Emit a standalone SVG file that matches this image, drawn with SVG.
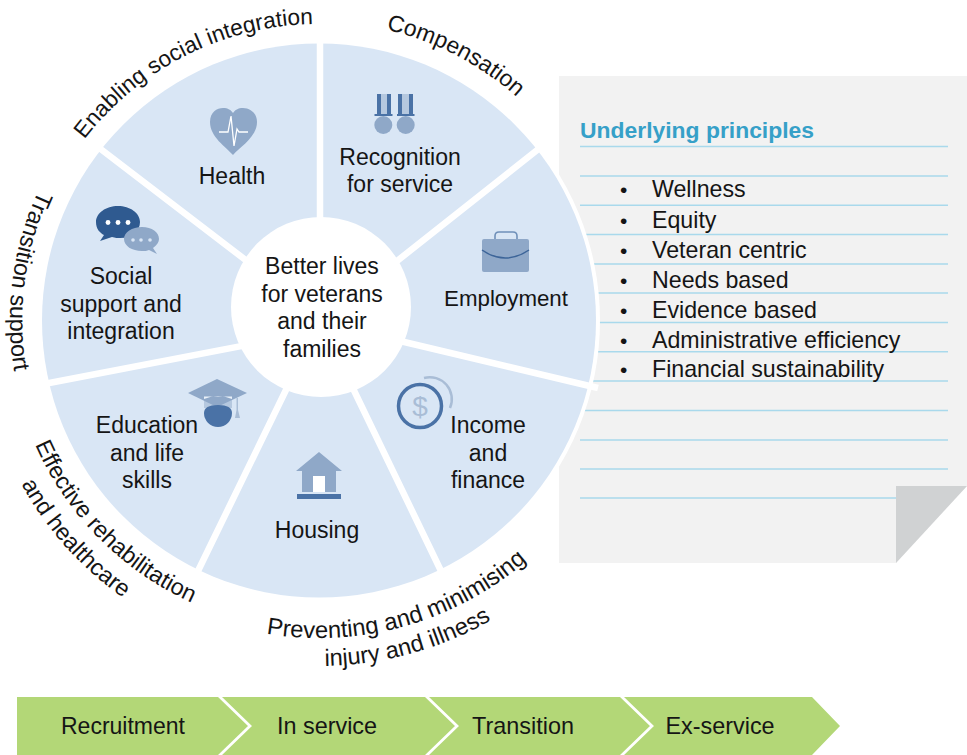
<svg xmlns="http://www.w3.org/2000/svg" width="967" height="755" viewBox="0 0 967 755">
<style>
text{font-family:"Liberation Sans",Arial,sans-serif;font-size:23px;fill:#151515}
.m{text-anchor:middle}
.rule{stroke:#a9d9ec;stroke-width:1.6;fill:none}
.spoke{stroke:#fff;stroke-width:6.5;fill:none}
.lt{fill:#8fa8c8}
.dk{fill:#4a72a6}
.chev{fill:#b3d777}
.p{font-size:23.200px}
.b{font-size:21px}
.o{font-size:23.300px}
.c{font-size:23.400px}
</style>
<defs>
<path id="a1" d="M47 203.4A296 296 0 0 1 386.6 31.7"/>
<path id="a2" d="M282.7 24.2A298 298 0 0 1 584.5 184.7"/>
<path id="a3" d="M109.2 93.2A309 309 0 0 0 59.2 487.5"/>
<path id="a4" d="M10 345.4A310 310 0 0 0 290.4 628.7"/>
<path id="a5" d="M-18.3 362.6A340 340 0 0 0 243.7 651.5"/>
<path id="a6" d="M186.1 609A318 318 0 0 0 580.4 500.9"/>
<path id="a7" d="M196.2 643.5A346 346 0 0 0 580.9 546"/>
</defs>
<g id="principles">
<path d="M559 76H967V486L896 563H559Z" fill="#f2f2f2"/>
<path class="rule" d="M580 146.500H948M580 176H948M580 205.200H948M580 234.500H948M580 264H948M580 293H948M580 322.500H948M580 351.800H948M580 381H948M580 410.500H948M580 440H948M580 469H948M580 498H896"/>
<path d="M896 486H967L896 563Z" fill="#d0d2d3"/>
</g>
<g id="wheel">
<circle cx="319" cy="320.500" r="281" fill="#fff"/>
<circle cx="319" cy="320.500" r="277" fill="#d9e6f5"/>
</g>
<g id="connectors">
<path class="spoke" d="M320 40V310M98 147L320 317M541 147L320 322M44 384L320 331M598 388L320 322M197 573L320 320M442 573L320 320"/>
</g>
<g id="centre">
<circle cx="321" cy="307" r="90" fill="#fff"/>
<text class="m" x="322" y="274">Better lives</text>
<text class="m" x="322" y="302">for veterans</text>
<text class="m" x="322" y="329">and their</text>
<text class="m" x="322" y="357">families</text>
</g>
<g id="health">
<path class="lt" d="M233 155C226 147 210 137 210 122C210 112 217 108 223 108C228 108 231 110 233 113C235 110 238 108 243 108C250 108 257 113 257 122C257 137 240 147 233 155Z"/>
<path d="M219 132H228L231 116L234 146L237 129L239 132H248" fill="none" stroke="#fff" stroke-width="1.300"/>
<text class="m" x="232" y="184">Health</text>
</g>
<g id="recognition">
<path class="dk" d="M377 94H391V114H377ZM398 94H413V114H398Z"/>
<path fill="#b5c8df" d="M381 94H387V114H381ZM402 94H409V114H402Z"/>
<path class="dk" d="M374.500 114H392.500V116H374.500ZM397 114H414.500V116H397Z"/>
<circle class="lt" cx="383.300" cy="125" r="9"/>
<circle class="lt" cx="405.700" cy="125" r="9"/>
<text class="m" x="400" y="165">Recognition</text>
<text class="m" x="400" y="192">for service</text>
</g>
<g id="employment">
<path d="M495 240V236Q495 232 499 232H513Q517 232 517 236V240" fill="none" stroke="#6f90b9" stroke-width="1.600"/>
<rect class="lt" x="482" y="239" width="47" height="33" rx="2"/>
<path d="M482 250Q505 266 529 250" fill="none" stroke="#3d6599" stroke-width="1.500"/>
<text class="m" x="506" y="306" style="font-size:22.300px">Employment</text>
</g>
<g id="income">
<path d="M424 378A22 22 0 0 1 450 408" fill="none" stroke="#a9bdd6" stroke-width="2.500"/>
<circle cx="420" cy="406" r="21.500" fill="none" stroke="#4a72a6" stroke-width="3.500"/>
<text class="m" x="420" y="416" style="font-size:28px;fill:#a9bdd6">$</text>
<text class="m" x="488" y="433">Income</text>
<text class="m" x="488" y="461">and</text>
<text class="m" x="488" y="488">finance</text>
</g>
<g id="housing">
<path class="lt" d="M296 471L319 452L342 471H336V492H325V476H313V492H302V471Z"/>
<path fill="#fff" d="M313 476H325V492H313Z"/>
<rect class="dk" x="297" y="494" width="44" height="5"/>
<text class="m" x="317" y="538">Housing</text>
</g>
<g id="education">
<path d="M204 393H232V408H204Z" fill="#b5c8df"/>
<path class="lt" d="M188 393L217 379L247 393L217 407Z"/>
<path d="M204 396.500V399Q218 393 232 399V396.500" fill="#eaf1f9"/>
<path class="dk" d="M204 413Q204 405 218 405Q232 405 232 413A14 14 0 0 1 204 413Z"/>
<path fill="#a9bdd6" d="M236.500 398H238V410L240 418H235L236.500 410Z"/>
<text class="m" x="147" y="433">Education</text>
<text class="m" x="147" y="461">and life</text>
<text class="m" x="147" y="488">skills</text>
</g>
<g id="social">
<path d="M118 206C106 206 96 213 96 222C96 229 100 233 104 235L100 241L112 237C115 238 118 238 120 238C132 238 140 231 140 222C140 213 130 206 118 206Z" fill="#2f5a90"/>
<path class="lt" d="M142 227C132 227 124 232 124 239C124 246 132 251 142 251C145 251 147 251 149 250L157 254L153 248C157 245 159 242 159 239C159 232 152 227 142 227Z"/>
<g fill="#fff"><circle cx="108" cy="222.500" r="2.400"/><circle cx="118" cy="222.500" r="2.400"/><circle cx="128" cy="222.500" r="2.400"/></g>
<g fill="#d9e6f5"><circle cx="133" cy="240" r="1.800"/><circle cx="141" cy="240" r="1.800"/><circle cx="150" cy="240" r="1.800"/></g>
<text class="m" x="121" y="284">Social</text>
<text class="m" x="121" y="312">support and</text>
<text class="m" x="121" y="339">integration</text>
</g>
<g id="outer-labels">
<text class="m" style="font-size:22.700px"><textPath href="#a1" startOffset="50%">Enabling social integration</textPath></text>
<text class="m"><textPath href="#a2" startOffset="49%">Compensation</textPath></text>
<text class="m o"><textPath href="#a3" startOffset="49.500%">Transition support</textPath></text>
<text class="m o"><textPath href="#a4" startOffset="50%">Effective rehabilitation</textPath></text>
<text class="m o"><textPath href="#a5" startOffset="49.500%">and healthcare</textPath></text>
<text class="m" style="font-size:23.800px"><textPath href="#a6" startOffset="50.400%">Preventing and minimising</textPath></text>
<text class="m" style="font-size:23.600px"><textPath href="#a7" startOffset="51.700%">injury and illness</textPath></text>
</g>
<g id="principles-text">
<text x="580" y="138" style="font-size:22.900px;font-weight:700;fill:#36a0c8">Underlying principles</text>
<text class="b" x="620" y="197">•</text><text class="p" x="652" y="197">Wellness</text>
<text class="b" x="620" y="228">•</text><text class="p" x="652" y="228">Equity</text>
<text class="b" x="620" y="258">•</text><text class="p" x="652" y="258">Veteran centric</text>
<text class="b" x="620" y="288">•</text><text class="p" x="652" y="288">Needs based</text>
<text class="b" x="620" y="318">•</text><text class="p" x="652" y="318">Evidence based</text>
<text class="b" x="620" y="348">•</text><text class="p" x="652" y="348">Administrative efficiency</text>
<text class="b" x="620" y="377">•</text><text class="p" x="652" y="377">Financial sustainability</text>
</g>
<g id="recruitment"><path class="chev" d="M17 697H218L248 726L218 755H17Z"/><text class="m" x="123" y="734">Recruitment</text></g>
<g id="in-service"><path class="chev" d="M222 697H425L455 726L425 755H222L252 726Z"/><text class="m c" x="327" y="734">In service</text></g>
<g id="transition"><path class="chev" d="M429 697H620L650 726L620 755H429L459 726Z"/><text class="m c" x="523" y="734">Transition</text></g>
<g id="ex-service"><path class="chev" d="M624 697H812L840 726L812 755H624L654 726Z"/><text class="m c" x="720" y="734">Ex-service</text></g>
</svg>
